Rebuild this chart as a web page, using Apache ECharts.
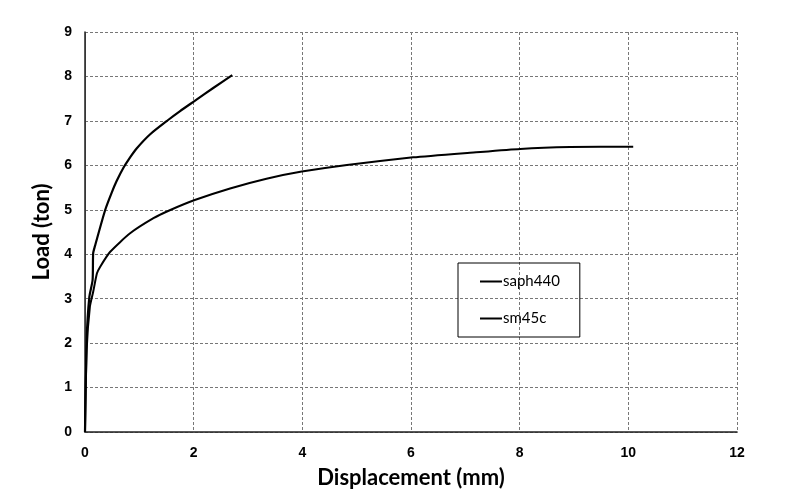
<!DOCTYPE html>
<html>
<head>
<meta charset="utf-8">
<script src="https://cdn.jsdelivr.net/npm/echarts@6/dist/echarts.min.js"></script>
<style>html,body{margin:0;padding:0;background:#fff}#c{width:791px;height:496px}</style>
</head>
<body>
<div id="c"></div>
<script>
var seriesNames = ['saph440', 'sm45c'];
var saph440 = [[0,0],[0.03,2.07],[0.08,3.04],[0.14,3.42],[0.15,4.02],[0.18,4.17],[0.37,4.99],[0.49,5.38],[0.58,5.64],[0.71,5.95],[0.83,6.18],[0.95,6.38],[1.2,6.7],[1.53,7.02],[1.75,7.22],[2.02,7.45],[2.36,7.74],[2.71,8.03]];
var sm45c = [[0,0],[0.03,1.84],[0.09,2.82],[0.15,3.15],[0.22,3.57],[0.28,3.72],[0.46,4.05],[0.83,4.47],[1.26,4.81],[1.56,4.99],[2.02,5.22],[2.67,5.48],[3.34,5.7],[3.99,5.86],[4.82,6.01],[6.04,6.18],[7.15,6.29],[8.01,6.37],[8.93,6.41],[10.09,6.42]];
var xTicks = [0,2,4,6,8,10,12];
var yTicks = [0,1,2,3,4,5,6,7,8,9];

var gridLine = {show:true, lineStyle:{color:'#777', width:1, type:[3,2]}};
var chart = echarts.init(document.getElementById('c'), null, {renderer:'canvas'});
chart.setOption({
  animation:false,
  backgroundColor:'#fff',
  grid:{left:85, top:32, width:652, height:400, containLabel:false},
  legend:{
    orient:'vertical', left:458, top:263,
    data:seriesNames,
    icon:'rect', itemWidth:22, itemHeight:2, itemGap:22,
    padding:[11,20,11,22],
    borderColor:'#000', borderWidth:1,
    textStyle:{fontFamily:'Lato', fontSize:15, color:'#000', padding:[0,0,0,-4]}
  },
  xAxis:[{
    type:'value', min:xTicks[0], max:xTicks[xTicks.length-1], interval:2,
    name:'Displacement (mm)', nameLocation:'middle', nameGap:35,
    nameTextStyle:{fontFamily:'Lato', fontWeight:'bold', fontSize:22, color:'#000'},
    axisLine:{show:true, lineStyle:{color:'#777', type:[3,2]}},
    axisTick:{show:false},
    axisLabel:{fontFamily:'Liberation Sans', fontWeight:'bold', fontSize:14, color:'#000', margin:14},
    splitLine:gridLine
  },{
    type:'value', position:'top', min:0, max:12, interval:2,
    axisLine:{show:true, lineStyle:{color:'#222', width:1.5}},
    axisTick:{show:false}, axisLabel:{show:false}, splitLine:{show:false}
  }],
  yAxis:[{
    type:'value', min:yTicks[0], max:yTicks[yTicks.length-1], interval:1,
    name:'Load (ton)', nameLocation:'middle', nameGap:29, nameRotate:90,
    nameTextStyle:{fontFamily:'Lato', fontWeight:'bold', fontSize:22, color:'#000'},
    axisLine:{show:true, lineStyle:{color:'#777', type:[3,2]}},
    axisTick:{show:false},
    axisLabel:{fontFamily:'Liberation Sans', fontWeight:'bold', fontSize:14, color:'#000', margin:13},
    splitLine:gridLine
  },{
    type:'value', position:'right', min:0, max:9, interval:1,
    axisLine:{show:true, lineStyle:{color:'#222', width:1.5}},
    axisTick:{show:false}, axisLabel:{show:false}, splitLine:{show:false}
  }],
  series:[
    {name:seriesNames[0], type:'line', data:saph440, showSymbol:false, symbol:'none', smooth:0.2,
     lineStyle:{color:'#000', width:2.2}, itemStyle:{color:'#000'}},
    {name:seriesNames[1], type:'line', data:sm45c, showSymbol:false, symbol:'none', smooth:0.2,
     lineStyle:{color:'#000', width:2}, itemStyle:{color:'#000'}}
  ]
});
</script>
</body>
</html>
